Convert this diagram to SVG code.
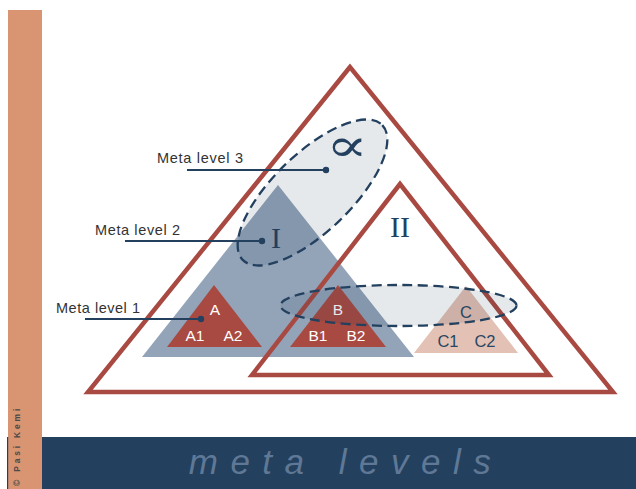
<svg xmlns="http://www.w3.org/2000/svg" width="636" height="489" viewBox="0 0 636 489">
<style>
.frame{fill:none;stroke:#a94a42;stroke-width:4.5;stroke-linejoin:miter}
.lbl{font-family:"Liberation Sans",Arial,sans-serif;font-size:14.5px;fill:#333}
.in{font-family:"Liberation Sans",Arial,sans-serif;font-size:15.5px;fill:#fff;text-anchor:middle}
.inc{font-family:"Liberation Sans",Arial,sans-serif;font-size:16.5px;fill:#2a4763;text-anchor:middle}
.roman{font-family:"Liberation Serif","DejaVu Serif",serif;font-size:30px;fill:#23405f;text-anchor:middle}
.ell{fill:#1e3350;fill-opacity:0.11;stroke:#23405f;stroke-width:2.3;stroke-dasharray:10 5.5}
.lead{stroke:#23405f;stroke-width:2;fill:none}
.dot{fill:#23405f}
</style>
<rect width="636" height="489" fill="#fff"/>
<g id="sidebar">
<rect x="8" y="10" width="34" height="479" fill="#d99572"/>
<rect x="7" y="437" width="1.2" height="52" fill="#23405f"/>
<text transform="translate(19.5,486) rotate(-90)" font-family="'Liberation Sans',Arial,sans-serif" font-size="8.5" font-weight="bold" letter-spacing="2.8" fill="#4a4a4a">© Pasi Kemi</text>
</g>
<g id="banner">
<rect x="42" y="437" width="594" height="52" fill="#23405e"/>
<text x="346" y="474" text-anchor="middle" font-family="'Liberation Sans',Arial,sans-serif" font-size="35" font-style="italic" letter-spacing="12.5" fill="#5f7896">meta levels</text>
</g>
<g id="triangle-I">
<polygon points="278,185 142,357 414,357" fill="#93a3b8"/>
<text class="roman" x="276" y="248">I</text>
</g>
<g id="triangle-A">
<polygon points="214,285 167,347 262,347" fill="#a94a42"/>
<text class="in" x="215" y="315">A</text>
<text class="in" x="195" y="341">A1</text>
<text class="in" x="233" y="341">A2</text>
</g>
<g id="triangle-B">
<polygon points="338,285 290,347 386,347" fill="#a94a42"/>
<text class="in" x="338" y="315">B</text>
<text class="in" x="318" y="341">B1</text>
<text class="in" x="356" y="341">B2</text>
</g>
<g id="triangle-C">
<polygon points="466,286 414,353 518,353" fill="#e3c1b4"/>
<text class="inc" x="466" y="318">C</text>
<text class="inc" x="448" y="347">C1</text>
<text class="inc" x="485" y="347">C2</text>
</g>
<g id="triangle-outer">
<polygon class="frame" points="350,67 88,392 613,392"/>
</g>
<g id="triangle-II">
<polygon class="frame" points="400,184 252,375 549,375"/>
<text class="roman" x="400" y="237">II</text>
</g>
<g id="meta-level-3-ellipse">
<ellipse class="ell" cx="312.5" cy="192.5" rx="97" ry="39" transform="rotate(-44 312.5 192.5)"/>
<text x="0" y="0" transform="translate(347,161) scale(1.35,1)" text-anchor="middle" font-family="'Liberation Serif','DejaVu Serif',serif" font-size="46" fill="#23405f">∝</text>
</g>
<g id="meta-level-1-ellipse">
<ellipse class="ell" cx="398.5" cy="305.5" rx="118" ry="20.5"/>
</g>
<g id="connectors">
<line class="lead" x1="187" y1="170" x2="326" y2="170"/>
<circle class="dot" cx="326" cy="170" r="3.2"/>
<line class="lead" x1="125" y1="241" x2="262" y2="241"/>
<circle class="dot" cx="262" cy="241" r="3.2"/>
<line class="lead" x1="85" y1="319" x2="201" y2="319"/>
<circle class="dot" cx="201" cy="319" r="3.2"/>
</g>
<g id="labels">
<text class="lbl" x="157" y="163" textLength="86">Meta level 3</text>
<text class="lbl" x="95" y="235" textLength="85">Meta level 2</text>
<text class="lbl" x="56" y="313" textLength="84">Meta level 1</text>
</g>
</svg>
